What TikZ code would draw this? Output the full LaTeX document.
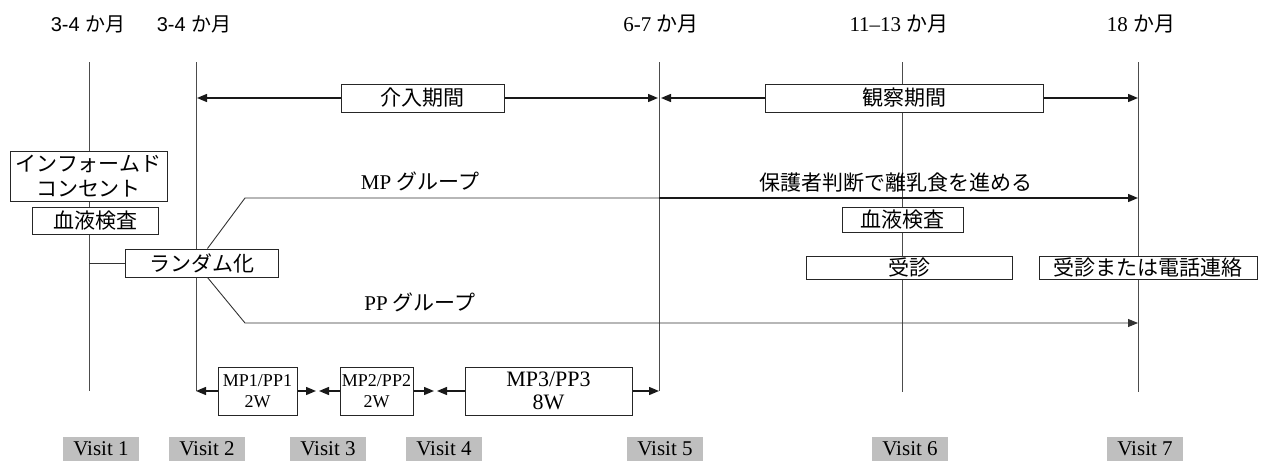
\documentclass[tikz,border=0pt]{standalone}
\usepackage{fontspec}
\setmainfont{Liberation Serif}
\newfontfamily\jp{Noto Sans CJK JP}
\newfontfamily\ars{Liberation Sans}
\usetikzlibrary{arrows.meta,calc}
\tikzset{
  vline/.style={draw=black!70, line width=0.9pt},
  conn/.style={draw=black!80, line width=0.9pt},
  arr/.style={draw=black!90, line width=1.4pt, -{Triangle[length=10pt,width=8pt]}},
  tbox/.style={draw=black!85, line width=1pt, fill=white, inner sep=0pt, font=\fontsize{21}{25}\selectfont\jp, align=center},
  mbox/.style={draw=black!85, line width=1pt, fill=white, inner sep=0pt, align=center},
  visit/.style={fill=black!25, inner sep=0pt, minimum width=76pt, minimum height=24pt, font=\fontsize{21}{21}\selectfont},
  lbl/.style={inner sep=0pt, font=\fontsize{21}{21}\selectfont},
}
\begin{document}
\begin{tikzpicture}[x=1pt,y=-1pt]
\useasboundingbox (0,0) rectangle (1262,463);
% time labels
\node[lbl,font=\fontsize{20}{20}\selectfont] (t1) at (88,24) {\ars 3-4 \jp か月};
\node[lbl,font=\fontsize{20}{20}\selectfont] (t2) at (194,24) {\ars 3-4 \jp か月};
\node[lbl] (t5) at (661,24) {6-7 {\jp か月}};
\node[lbl] (t6) at (899,24) {11--13 {\jp か月}};
\node[lbl] (t7) at (1141,24) {18 {\jp か月}};
% vertical lines
\coordinate (v1t) at (89,62);   \coordinate (v1b) at (89,391);
\coordinate (v2t) at (196,62);  \coordinate (v2b) at (196,391);
\coordinate (v5t) at (659,62);  \coordinate (v5b) at (659,391);
\coordinate (v6t) at (902,62);  \coordinate (v6b) at (902,392);
\coordinate (v7t) at (1138,62); \coordinate (v7b) at (1138,392);
\draw[vline] (v1t) -- (v1b);
\draw[vline] (v2t) -- (v2b);
\draw[vline] (v5t) -- (v5b);
\draw[vline] (v6t) -- (v6b);
\draw[vline] (v7t) -- (v7b);
% period boxes
\node[tbox, minimum width=163pt, minimum height=28pt] (kainyu) at (422.5,98) {介入期間};
\node[tbox, minimum width=278pt, minimum height=28pt] (kansatsu) at (904,98) {観察期間};
\coordinate (p2) at (197,98);
\coordinate (p5a) at (658,98);
\coordinate (p5b) at (661,98);
\coordinate (p7) at (1138,98);
\draw[arr] (kainyu.west) -- (p2);
\draw[arr] (kainyu.east) -- (p5a);
\draw[arr] (kansatsu.west) -- (p5b);
\draw[arr] (kansatsu.east) -- (p7);
% left boxes
\node[tbox, minimum width=157pt, minimum height=50pt] (ic) at (88.5,176) {インフォームド\\コンセント};
\node[tbox, minimum width=126pt, minimum height=27pt] (blood1) at (95,220.5) {血液検査};
\node[tbox, minimum width=153pt, minimum height=28pt] (rand) at (201.5,263) {ランダム化};
\coordinate (j1) at (89,263);
\draw[conn] (j1) -- (rand.west);
% groups
\coordinate (mpd) at (245,198);
\coordinate (mp5) at (659,198);
\coordinate (mp7) at (1138,198);
\coordinate (ppd) at (245,323);
\coordinate (pp7) at (1138,323);
\draw[conn] ($(rand.north west)+(83,0)$) -- (mpd) -- (mp5);
\draw[arr] (mp5) -- (mp7);
\draw[conn, -{Triangle[length=10pt,width=8pt]}] ($(rand.south west)+(83,0)$) -- (ppd) -- (pp7);
\node[lbl] (mplbl) at (420,181) {MP {\jp グループ}};
\node[lbl] (pplbl) at (420,302) {PP {\jp グループ}};
\node[lbl] (hogo) at (896,183) {\jp 保護者判断で離乳食を進める};
% right boxes
\node[tbox, minimum width=121pt, minimum height=25pt] (blood2) at (902.5,219.5) {血液検査};
\node[tbox, minimum width=206pt, minimum height=23pt] (jushin) at (909,267.5) {受診};
\node[tbox, minimum width=218pt, minimum height=23pt] (jushin2) at (1148,267.5) {受診または電話連絡};
% MP/PP boxes
\node[mbox, minimum width=79pt, minimum height=48pt, font=\fontsize{18}{21}\selectfont] (m1) at (257.5,391) {MP1/PP1\\2W};
\node[mbox, minimum width=73pt, minimum height=48pt, font=\fontsize{18}{21}\selectfont] (m2) at (376.5,391) {MP2/PP2\\2W};
\node[mbox, minimum width=167pt, minimum height=48pt, font=\fontsize{22}{23}\selectfont] (m3) at (548.5,391) {MP3/PP3\\8W};
\coordinate (a12) at (316,391);
\coordinate (a21) at (319,391);
\coordinate (a23) at (434,391);
\coordinate (a32) at (437,391);
\draw[arr] (m1.west) -- (v2b);
\draw[arr] (m1.east) -- (a12);
\draw[arr] (m2.west) -- (a21);
\draw[arr] (m2.east) -- (a23);
\draw[arr] (m3.west) -- (a32);
\draw[arr] (m3.east) -- (v5b);
% visits
\node[visit] (vis1) at (101,449) {Visit 1};
\node[visit] (vis2) at (207,449) {Visit 2};
\node[visit] (vis3) at (328,449) {Visit 3};
\node[visit] (vis4) at (444,449) {Visit 4};
\node[visit] (vis5) at (665,449) {Visit 5};
\node[visit] (vis6) at (910,449) {Visit 6};
\node[visit] (vis7) at (1145,449) {Visit 7};
\end{tikzpicture}
\end{document}
